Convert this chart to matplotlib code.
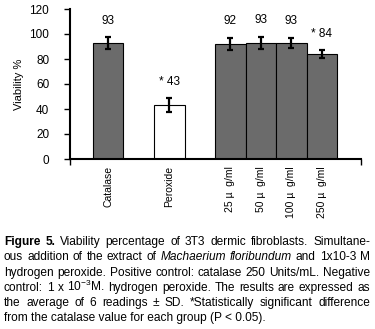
import matplotlib
matplotlib.use("Agg")
import matplotlib.pyplot as plt

plt.rcParams['font.family'] = ['Liberation Sans', 'DejaVu Sans']

# chart data
categories = ["Catalase", "Peroxide", "25 µ  g/ml", "50 µ  g/ml", "100 µ  g/ml", "250 µ  g/ml"]
slots = [0, 2, 4, 5, 6, 7]
viability = [93, 43, 92, 93, 93, 84]
sd = [4.7, 5.5, 5.0, 5.0, 4.0, 3.0]
value_labels = ["93", "* 43", "92", "93", "93", "* 84"]
bar_colors = ["#6b6b6b", "white", "#6b6b6b", "#6b6b6b", "#6b6b6b", "#6b6b6b"]

# caption, one list per printed line: (word, style)
caption_lines = [
    [("Figure", "b"), ("5.", "b"), ("Viability", "n"), ("percentage", "n"), ("of", "n"), ("3T3", "n"),
     ("dermic", "n"), ("fibroblasts.", "n"), ("Simultane-", "n")],
    [("ous", "n"), ("addition", "n"), ("of", "n"), ("the", "n"), ("extract", "n"), ("of", "n"),
     ("Machaerium", "i"), ("floribundum", "i"), ("and", "n"), ("1x10-3", "n"), ("M", "n")],
    [("hydrogen", "n"), ("peroxide.", "n"), ("Positive", "n"), ("control:", "n"), ("catalase", "n"),
     ("250", "n"), ("Units/mL.", "n"), ("Negative", "n")],
    [("control:", "n"), ("1", "n"), ("x", "n"), (r"10$^{\mathregular{-3}}$M.", "n"), ("hydrogen", "n"),
     ("peroxide.", "n"), ("The", "n"), ("results", "n"), ("are", "n"), ("expressed", "n"), ("as", "n")],
    [("the", "n"), ("average", "n"), ("of", "n"), ("6", "n"), ("readings", "n"), ("±", "n"), ("SD.", "n"),
     ("*Statistically", "n"), ("significant", "n"), ("difference", "n")],
    [("from the catalase value for each group (P < 0.05).", "n")],
]

W, H = 375, 329
fig = plt.figure(figsize=(W / 100, H / 100), dpi=100)
ax = fig.add_axes([70 / W, 1 - 159 / H, (361 - 70) / W, 150 / H])

ax.bar(slots, viability, width=1.0, color=bar_colors, edgecolor="black", linewidth=0.8, zorder=2)
ax.errorbar(slots, viability, yerr=sd, fmt="none", ecolor="black", elinewidth=1.6,
            capsize=2.5, capthick=1.6, zorder=3)
for x, v, s, lab in zip(slots, viability, sd, value_labels):
    ax.text(x, v + s + 13, lab, ha="center", va="center", fontsize=8.5)

ax.set_xlim(-1.25, 8.28)
ax.set_ylim(0, 120)
ax.set_yticks(range(0, 121, 20))
ax.set_xticks(slots)
ax.set_xticklabels(categories, rotation=90, fontsize=7.5)
ax.tick_params(axis="x", length=0, pad=5)
ax.set_xticks([-1.25, 8.28], minor=True)
ax.tick_params(axis="x", which="minor", length=4, width=1)
ax.tick_params(axis="y", length=4, width=1, labelsize=8.5, pad=11)
ax.set_ylabel("Viability %", fontsize=8, labelpad=4)
for side in ("top", "right"):
    ax.spines[side].set_visible(False)
for side in ("left", "bottom"):
    ax.spines[side].set_linewidth(1.5)

# justified caption
fs = 8.6
left, right = 4, 370
base0, step = 245, 15.3
renderer = fig.canvas.get_renderer()
for i, line in enumerate(caption_lines):
    y = 1 - (base0 + i * step) / H
    texts = []
    for word, style in line:
        t = fig.text(0, y, word, fontsize=fs, va="baseline", ha="left",
                     fontweight="bold" if style == "b" else "normal",
                     fontstyle="italic" if style == "i" else "normal")
        texts.append(t)
    widths = [t.get_window_extent(renderer).width for t in texts]
    gap = 0
    if len(texts) > 1 and i < len(caption_lines) - 1:
        gap = (right - left - sum(widths)) / (len(texts) - 1)
    x = left
    for t, w in zip(texts, widths):
        t.set_x(x / W)
        x += w + gap

fig.savefig("out.png", dpi=100)
